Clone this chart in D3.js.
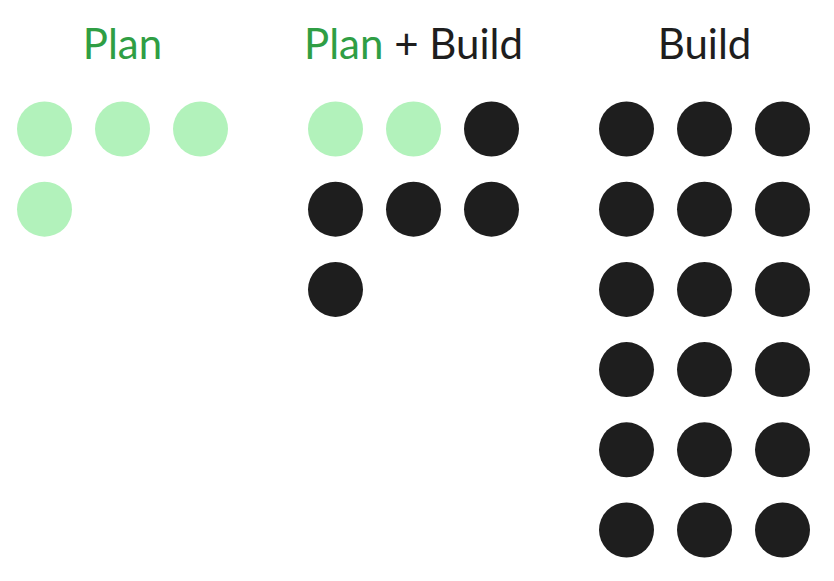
<!DOCTYPE html>
<html>
<head>
<meta charset="utf-8">
<script src="https://cdn.jsdelivr.net/npm/d3@7"></script>
<style>
  html, body { margin: 0; padding: 0; background: #fff; }
</style>
</head>
<body>
<script>
// groups and how many dots of each kind they hold
const groups = ['Plan', 'Plan + Build', 'Build'];
const planCounts = [4, 2, 0];
const buildCounts = [0, 5, 18];
const perRow = 3;

const width = 834;
const height = 581;
const green = '#2f9e44';
const lightGreen = '#b2f2bb';
const ink = '#1e1e1e';

const svg = d3.create('svg')
  .attr('viewBox', [0, 0, width, height])
  .attr('width', width)
  .attr('height', height);

const x = d3.scaleBand().domain(groups).range([-23, 850]).padding(0);
const col = d3.scaleLinear().domain([0, 2]).range([-78, 78]);
const row = d3.scaleLinear().domain([0, 5]).range([129, 530]);

// build dot list from counts
let dots = [];
groups.forEach((g, gi) => {
  const n = planCounts[gi] + buildCounts[gi];
  for (let i = 0; i < n; i++) {
    dots.push({ group: g, i: i, kind: i < planCounts[gi] ? 'plan' : 'build' });
  }
});

const cx = d => x(d.group) + x.bandwidth() / 2;

svg.append('g')
  .selectAll('circle')
  .data(dots)
  .join('circle')
  .attr('cx', d => cx(d) + col(d.i % perRow))
  .attr('cy', d => row(Math.floor(d.i / perRow)))
  .attr('r', 27.5)
  .attr('fill', d => d.kind === 'plan' ? lightGreen : ink);

// titles
const titles = svg.append('g')
  .attr('font-family', 'Lato, sans-serif')
  .attr('font-size', 42)
  .attr('text-anchor', 'middle');

groups.forEach((g, gi) => {
  const t = titles.append('text')
    .attr('x', x(g) + x.bandwidth() / 2)
    .attr('y', 59);
  g.split(' ').forEach((w, wi) => {
    t.append('tspan')
      .attr('fill', w === 'Plan' ? green : ink)
      .text((wi > 0 ? ' ' : '') + w);
  });
});

document.body.appendChild(svg.node());
</script>
</body>
</html>
